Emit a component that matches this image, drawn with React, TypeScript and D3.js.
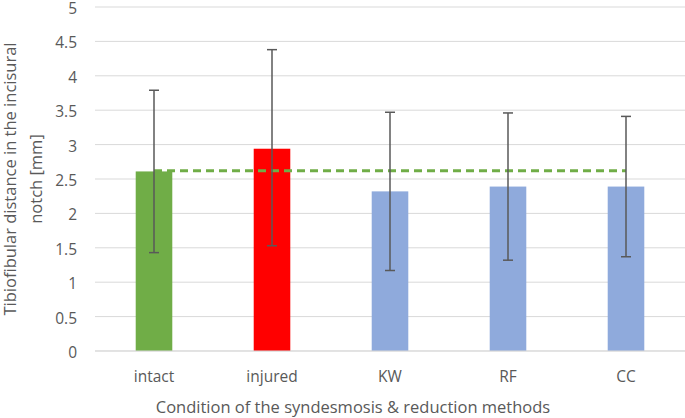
import { useEffect, useRef } from 'react'
import * as d3 from 'd3'

const categories = ['intact', 'injured', 'KW', 'RF', 'CC']
const means = [2.61, 2.94, 2.32, 2.39, 2.39]
const upper = [3.79, 4.38, 3.47, 3.46, 3.41]
const lower = [1.43, 1.53, 1.17, 1.32, 1.37]
const colors = ['#70AD47', '#FF0000', '#8FAADC', '#8FAADC', '#8FAADC']
const yTicks = [0, 0.5, 1, 1.5, 2, 2.5, 3, 3.5, 4, 4.5, 5]
const refValue = 2.62

const W = 685
const H = 418
const FONT = '"Open Sans", "Noto Sans", sans-serif'

export default function App() {
  const svgRef = useRef<SVGSVGElement>(null)

  useEffect(() => {
    if (!svgRef.current) return
    const svg = d3.select(svgRef.current)
    svg.selectAll('*').remove()

    const x = d3.scaleBand().domain(categories).range([95, 685]).paddingInner(0.69).paddingOuter(0.345)
    const y = d3.scaleLinear().domain([0, 5]).range([351, 7])

    // gridlines
    svg.append('g').selectAll('line').data(yTicks).join('line')
      .attr('x1', 95).attr('x2', W)
      .attr('y1', d => y(d)).attr('y2', d => y(d))
      .attr('stroke', '#d9d9d9').attr('stroke-width', 1)

    // y tick labels
    svg.append('g').selectAll('text').data(yTicks).join('text')
      .attr('x', 77).attr('y', d => y(d) + 1.5).attr('dy', '0.35em')
      .attr('text-anchor', 'end')
      .attr('font-family', FONT).attr('font-size', 15.5)
      .attr('fill', '#595959')
      .text(d => String(d))

    // bars
    svg.append('g').selectAll('rect').data(categories).join('rect')
      .attr('x', d => x(d)!).attr('width', x.bandwidth())
      .attr('y', (_, i) => y(means[i])).attr('height', (_, i) => y(0) - y(means[i]))
      .attr('fill', (_, i) => colors[i])

    // reference line (intact mean)
    svg.append('line')
      .attr('x1', x('intact')! + x.bandwidth() / 2)
      .attr('x2', x('CC')! + x.bandwidth() / 2)
      .attr('y1', y(refValue)).attr('y2', y(refValue))
      .attr('stroke', '#70AD47').attr('stroke-width', 3)
      .attr('stroke-dasharray', '8,5')

    // error bars
    const eb = svg.append('g').attr('stroke', '#595959').attr('stroke-width', 1.5)
    categories.forEach((c, i) => {
      const cx = x(c)! + x.bandwidth() / 2
      eb.append('line').attr('x1', cx).attr('x2', cx).attr('y1', y(upper[i])).attr('y2', y(lower[i]))
      eb.append('line').attr('x1', cx - 5).attr('x2', cx + 5).attr('y1', y(upper[i])).attr('y2', y(upper[i]))
      eb.append('line').attr('x1', cx - 5).attr('x2', cx + 5).attr('y1', y(lower[i])).attr('y2', y(lower[i]))
    })

    // x axis line
    svg.append('line').attr('x1', 95).attr('x2', W).attr('y1', y(0)).attr('y2', y(0))
      .attr('stroke', '#d9d9d9').attr('stroke-width', 1)

    // x tick labels
    svg.append('g').selectAll('text').data(categories).join('text')
      .attr('x', d => x(d)! + x.bandwidth() / 2).attr('y', 382)
      .attr('text-anchor', 'middle')
      .attr('font-family', FONT).attr('font-size', 15.5)
      .attr('fill', '#595959')
      .text(d => d)

    // x axis title
    svg.append('text')
      .attr('x', 353).attr('y', 413)
      .attr('text-anchor', 'middle')
      .attr('font-family', FONT).attr('font-size', 16.5)
      .attr('fill', '#595959')
      .text('Condition of the syndesmosis & reduction methods')

    // y axis title
    const yt = svg.append('text')
      .attr('transform', 'translate(0,179) rotate(-90)')
      .attr('text-anchor', 'middle')
      .attr('font-family', FONT).attr('font-size', 16.5)
      .attr('fill', '#595959')
    yt.append('tspan').attr('x', 0).attr('y', 16).text('Tibiofibular distance in the incisural')
    yt.append('tspan').attr('x', 0).attr('y', 42).text('notch [mm]')
  }, [])

  return (
    <div style={{ position: 'absolute', left: 0, top: 0 }}>
      <svg ref={svgRef} width={W} height={H} style={{ display: 'block', background: '#fff' }} />
    </div>
  )
}
